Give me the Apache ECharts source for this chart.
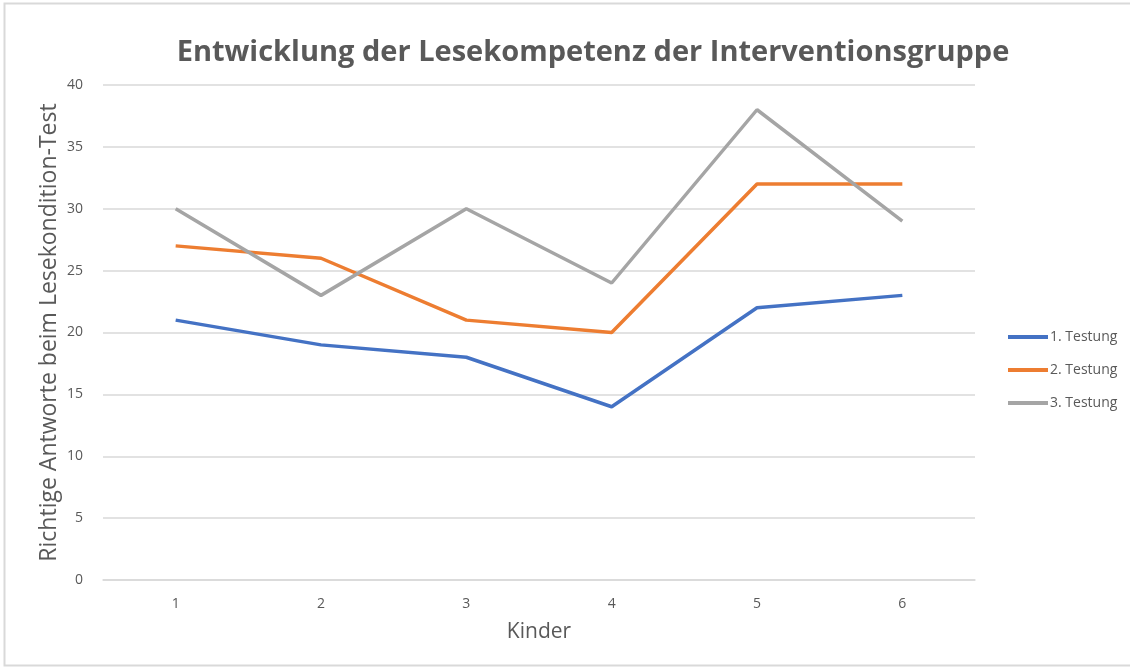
<!DOCTYPE html>
<html>
<head>
<meta charset="utf-8">
<script src="https://cdn.jsdelivr.net/npm/echarts@6/dist/echarts.min.js"></script>
<style>
  html, body { margin: 0; padding: 0; background: #fff; }
  #chart { width: 1130px; height: 670px; }
</style>
</head>
<body>
<div id="chart"></div>
<script>
  // Kinder (x-Achse)
  const kinder = ['1', '2', '3', '4', '5', '6'];
  // Richtige Antworte je Testung
  const testung1 = [21, 19, 18, 14, 22, 23];
  const testung2 = [27, 26, 21, 20, 32, 32];
  const testung3 = [30, 23, 30, 24, 38, 29];
  const seriesNames = ['1. Testung', '2. Testung', '3. Testung'];

  const textColor = '#595959';
  const fontFam = '"Open Sans", "Noto Sans", sans-serif';

  let chart = echarts.init(document.getElementById('chart'));
  let option = {
    backgroundColor: '#fff',
    textStyle: { fontFamily: fontFam },
    graphic: [{
      type: 'rect',
      shape: { x: 4.5, y: 3.5, width: 1130, height: 662 },
      style: { fill: 'none', stroke: '#d9d9d9', lineWidth: 2 },
      silent: true
    }],
    title: {
      text: 'Entwicklung der Lesekompetenz der Interventionsgruppe',
      left: 588,
      textAlign: 'center',
      top: 33,
      textStyle: { color: textColor, fontSize: 29, fontWeight: 'bold', fontFamily: fontFam }
    },
    legend: {
      orient: 'vertical',
      left: 1003,
      top: 325,
      icon: 'rect',
      itemWidth: 40,
      itemHeight: 4,
      itemGap: 19,
      textStyle: { color: textColor, fontSize: 14, padding: [0, 0, 0, -3] },
      data: seriesNames
    },
    grid: { left: 103, right: 155, top: 85, bottom: 90 },
    xAxis: {
      type: 'category',
      data: kinder,
      boundaryGap: true,
      name: 'Kinder',
      nameLocation: 'middle',
      nameGap: 42,
      nameTextStyle: { color: textColor, fontSize: 21 },
      axisLine: { lineStyle: { color: '#d9d9d9', width: 1.5 } },
      axisTick: { show: false },
      axisLabel: { color: textColor, fontSize: 14, margin: 17 }
    },
    yAxis: {
      type: 'value',
      min: 0,
      max: 40,
      interval: 5,
      name: 'Richtige Antworte beim Lesekondition-Test',
      nameLocation: 'middle',
      nameGap: 42,
      nameMoveOverlap: false,
      nameTextStyle: { color: textColor, fontSize: 23 },
      axisLine: { show: false },
      axisTick: { show: false },
      axisLabel: { color: textColor, fontSize: 14, margin: 20 },
      splitLine: { lineStyle: { color: '#d9d9d9', width: 1.5 } }
    },
    series: [
      { name: seriesNames[0], type: 'line', data: testung1, symbol: 'none', lineStyle: { width: 3.5 }, color: '#4472C4' },
      { name: seriesNames[1], type: 'line', data: testung2, symbol: 'none', lineStyle: { width: 3.5 }, color: '#ED7D31' },
      { name: seriesNames[2], type: 'line', data: testung3, symbol: 'none', lineStyle: { width: 3.5 }, color: '#A5A5A5' }
    ]
  };
  chart.setOption(option);
</script>
</body>
</html>
